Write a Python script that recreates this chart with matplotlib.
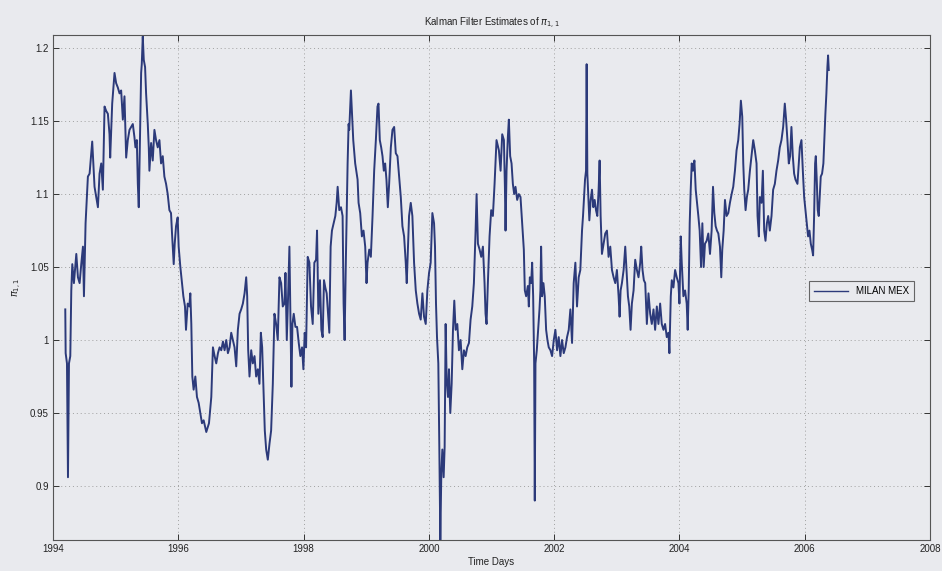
import matplotlib
matplotlib.use("Agg")
import matplotlib.pyplot as plt
from matplotlib.ticker import FixedLocator

plt.rcParams['font.family'] = ['Liberation Sans', 'DejaVu Sans']

# ---- data ----
years = [
 1994.196,1994.202,1994.223,1994.239,1994.255,1994.276,1994.292,1994.308,1994.334,1994.372,
 1994.398,1994.425,1994.451,1994.478,1994.494,1994.520,1994.557,1994.584,1994.626,1994.663,
 1994.690,1994.717,1994.743,1994.770,1994.796,1994.823,1994.849,1994.876,1994.902,1994.913,
 1994.945,1994.982,1995.008,1995.035,1995.062,1995.088,1995.115,1995.141,1995.168,1995.194,
 1995.221,1995.247,1995.274,1995.300,1995.316,1995.338,1995.354,1995.369,1995.391,1995.407,
 1995.417,1995.433,1995.449,1995.470,1995.486,1995.513,1995.529,1995.539,1995.566,1995.592,
 1995.619,1995.645,1995.672,1995.699,1995.725,1995.752,1995.778,1995.805,1995.831,1995.858,
 1995.884,1995.900,1995.927,1995.943,1995.964,1995.990,1996.006,1996.033,1996.059,1996.081,
 1996.107,1996.123,1996.150,1996.176,1996.192,1996.208,1996.224,1996.245,1996.272,1996.298,
 1996.325,1996.351,1996.378,
 1996.405,1996.447,1996.490,1996.527,1996.553,1996.580,1996.606,1996.633,1996.659,1996.686,
 1996.713,1996.739,1996.766,1996.792,1996.819,1996.845,1996.872,1996.898,1996.925,1996.951,
 1996.978,1997.004,1997.031,1997.058,1997.084,1997.100,1997.116,1997.137,1997.164,1997.190,
 1997.217,1997.243,1997.270,1997.296,1997.318,1997.339,1997.360,1997.381,1997.403,1997.429,
 1997.456,1997.482,1997.509,1997.535,1997.562,1997.588,1997.615,1997.642,1997.668,1997.695,
 1997.711,1997.732,1997.753,1997.774,1997.790,1997.806,1997.822,1997.843,1997.870,1997.896,
 1997.923,1997.949,1997.976,1997.997,1998.018,1998.040,1998.066,1998.093,1998.119,1998.146,
 1998.172,1998.199,1998.215,1998.236,1998.262,1998.284,1998.305,1998.326,1998.347,1998.369,
 1998.390,1998.411,1998.432,1998.453,1998.480,1998.507,1998.528,1998.544,1998.570,1998.597,
 1998.623,1998.639,1998.655,1998.676,1998.703,1998.719,
 1998.729,1998.756,1998.771,1998.793,1998.824,1998.862,1998.878,1998.904,1998.931,1998.957,
 1998.984,1999.005,1999.021,1999.048,1999.074,1999.101,1999.127,1999.154,1999.180,1999.196,
 1999.217,1999.239,1999.260,1999.281,1999.302,1999.323,1999.345,1999.366,1999.393,1999.419,
 1999.446,1999.472,1999.499,1999.525,1999.552,1999.578,1999.605,1999.631,1999.647,1999.669,
 1999.684,1999.711,1999.737,1999.764,1999.791,1999.817,1999.844,1999.870,1999.897,1999.923,
 1999.950,1999.976,2000.003,2000.029,2000.056,2000.083,2000.098,2000.114,2000.130,2000.151,
 2000.167,2000.183,2000.199,2000.215,2000.236,2000.252,2000.268,2000.284,2000.305,2000.321,
 2000.342,2000.364,2000.385,2000.406,2000.427,2000.454,2000.480,2000.507,2000.534,2000.560,
 2000.587,2000.613,2000.640,2000.666,2000.693,2000.719,2000.746,2000.762,2000.783,2000.810,
 2000.836,2000.863,2000.889,2000.905,2000.921,2000.942,2000.969,2000.995,2001.022,2001.049,
 2001.080,
 2001.118,2001.145,2001.171,2001.198,2001.214,2001.224,2001.240,2001.261,2001.277,2001.298,
 2001.320,2001.341,2001.362,2001.383,2001.410,2001.436,2001.463,2001.490,2001.516,2001.532,
 2001.553,2001.580,2001.596,2001.612,2001.633,2001.649,2001.665,2001.681,2001.691,2001.702,
 2001.723,2001.744,2001.766,2001.781,2001.792,2001.808,2001.829,2001.850,2001.872,2001.893,
 2001.914,2001.941,2001.967,2001.994,2002.020,2002.047,2002.073,2002.100,2002.126,2002.153,
 2002.180,2002.206,2002.233,2002.259,2002.286,2002.312,2002.339,2002.365,2002.392,2002.418,
 2002.445,2002.461,2002.477,2002.493,2002.509,2002.519,2002.530,2002.546,2002.562,2002.583,
 2002.604,2002.625,2002.647,2002.668,2002.689,2002.710,2002.726,2002.742,2002.763,2002.790,
 2002.816,2002.843,2002.869,2002.896,2002.923,2002.949,2002.976,2003.002,2003.029,2003.045,
 2003.061,2003.082,2003.109,2003.135,2003.156,2003.178,2003.199,2003.220,2003.241,2003.268,
 2003.294,2003.321,2003.347,2003.374,2003.390,2003.411,2003.432,2003.454,2003.480,
 2003.506,2003.533,2003.559,2003.586,2003.612,2003.639,2003.665,2003.692,2003.718,2003.745,
 2003.771,2003.798,2003.825,2003.840,2003.862,2003.878,2003.904,2003.931,2003.957,2003.984,
 2004.000,2004.021,2004.037,2004.063,2004.090,2004.116,2004.132,2004.148,2004.164,2004.180,
 2004.196,2004.217,2004.239,2004.260,2004.281,2004.302,2004.323,2004.345,2004.366,2004.387,
 2004.408,2004.435,2004.461,2004.488,2004.514,2004.536,2004.557,2004.578,2004.599,2004.621,
 2004.647,2004.668,2004.684,2004.706,2004.727,2004.753,2004.780,2004.806,2004.833,2004.859,
 2004.886,2004.912,2004.939,2004.960,2004.981,2005.003,2005.019,2005.035,2005.056,2005.077,
 2005.098,2005.125,2005.151,2005.178,2005.204,2005.231,2005.247,2005.268,2005.284,2005.311,
 2005.332,2005.353,2005.374,2005.396,2005.417,2005.443,2005.470,2005.496,2005.523,2005.549,
 2005.576,2005.602,2005.629,2005.656,2005.682,2005.703,2005.724,2005.746,2005.767,2005.788,
 2005.810,2005.831,2005.852,2005.884,
 2005.922,2005.948,2005.970,2005.991,2006.012,2006.033,2006.054,2006.076,2006.097,2006.118,
 2006.134,2006.150,2006.166,2006.177,2006.192,2006.208,2006.224,2006.240,2006.256,2006.277,
 2006.298,2006.315,2006.330,2006.346,2006.362,2006.373,2006.384,
]
pi11 = [
 1.021,0.991,0.984,0.906,0.984,0.989,1.034,1.052,1.039,1.059,
 1.043,1.039,1.052,1.064,1.030,1.080,1.112,1.114,1.136,1.105,
 1.098,1.091,1.114,1.121,1.103,1.160,1.157,1.155,1.141,1.125,
 1.162,1.183,1.176,1.173,1.169,1.171,1.151,1.167,1.125,1.137,
 1.144,1.146,1.148,1.139,1.132,1.137,1.107,1.091,1.146,1.183,
 1.189,1.208,1.192,1.187,1.169,1.148,1.132,1.116,1.135,1.123,
 1.144,1.137,1.132,1.137,1.121,1.126,1.112,1.107,1.100,1.089,
 1.087,1.073,1.052,1.066,1.078,1.084,1.064,1.050,1.039,1.030,
 1.023,1.007,1.025,1.023,1.032,1.011,0.975,0.966,0.975,0.961,
 0.957,0.950,0.943,
 0.945,0.937,0.943,0.961,0.995,0.989,0.984,0.991,0.995,0.993,
 0.999,0.993,1.000,0.991,0.995,1.005,1.000,0.995,0.982,1.007,
 1.018,1.021,1.025,1.032,1.043,1.030,0.993,0.975,0.993,0.984,
 0.989,0.975,0.980,0.970,1.005,0.995,0.966,0.938,0.925,0.918,
 0.929,0.938,0.970,1.018,1.011,1.000,1.043,1.039,1.023,1.025,
 1.046,1.000,1.030,1.064,1.018,0.968,1.011,1.018,1.009,1.009,
 0.998,0.989,0.995,0.980,1.005,0.995,1.057,1.053,1.023,1.011,
 1.053,1.055,1.075,1.018,1.041,1.007,1.002,1.041,1.036,1.032,
 1.018,1.005,1.064,1.075,1.080,1.085,1.094,1.105,1.089,1.091,
 1.085,1.025,1.000,1.057,1.121,1.148,
 1.144,1.171,1.157,1.137,1.121,1.110,1.094,1.087,1.071,1.075,
 1.064,1.039,1.053,1.062,1.057,1.085,1.116,1.137,1.160,1.162,
 1.137,1.132,1.126,1.116,1.121,1.110,1.091,1.107,1.132,1.144,
 1.146,1.128,1.126,1.112,1.098,1.078,1.071,1.053,1.039,1.066,
 1.085,1.094,1.085,1.053,1.034,1.025,1.018,1.014,1.032,1.016,
 1.011,1.034,1.046,1.053,1.087,1.080,1.064,1.025,1.002,0.984,
 0.927,0.863,0.909,0.925,0.906,0.927,1.011,0.973,0.961,0.980,
 0.950,0.970,1.007,1.027,1.007,1.011,0.993,1.000,0.980,0.993,
 0.989,0.995,0.998,1.014,1.023,1.039,1.075,1.100,1.066,1.062,
 1.057,1.064,1.039,1.018,1.011,1.039,1.071,1.089,1.085,1.107,
 1.137,
 1.130,1.116,1.141,1.137,1.105,1.075,1.116,1.139,1.151,1.126,
 1.121,1.107,1.100,1.105,1.096,1.100,1.098,1.080,1.062,1.034,
 1.030,1.037,1.023,1.043,1.039,1.053,1.030,0.984,0.890,0.984,
 0.993,1.007,1.021,1.034,1.064,1.030,1.039,1.030,1.007,1.000,
 0.995,0.993,0.989,1.000,1.007,0.993,1.002,0.989,1.000,0.991,
 0.995,1.002,1.007,1.021,0.998,1.039,1.053,1.023,1.043,1.048,
 1.075,1.085,1.098,1.110,1.116,1.189,1.114,1.098,1.082,1.096,
 1.103,1.091,1.096,1.089,1.085,1.103,1.123,1.085,1.059,1.066,
 1.073,1.075,1.057,1.064,1.048,1.043,1.039,1.048,1.030,1.016,
 1.034,1.039,1.048,1.064,1.048,1.030,1.023,1.007,1.025,1.034,
 1.055,1.048,1.043,1.053,1.064,1.048,1.041,1.039,1.011,
 1.032,1.018,1.011,1.021,1.007,1.023,1.011,1.025,1.011,1.007,
 1.011,1.002,1.005,0.991,1.030,1.041,1.036,1.048,1.043,1.039,
 1.025,1.071,1.053,1.030,1.034,1.025,1.007,1.034,1.080,1.103,
 1.121,1.116,1.123,1.103,1.094,1.085,1.075,1.050,1.080,1.050,
 1.066,1.068,1.073,1.059,1.075,1.105,1.087,1.078,1.075,1.073,
 1.064,1.043,1.062,1.075,1.096,1.085,1.087,1.094,1.100,1.105,
 1.116,1.130,1.137,1.148,1.164,1.153,1.121,1.103,1.089,1.098,
 1.103,1.116,1.126,1.137,1.130,1.121,1.085,1.071,1.098,1.094,
 1.116,1.075,1.068,1.080,1.085,1.075,1.085,1.103,1.107,1.116,
 1.123,1.132,1.137,1.146,1.162,1.151,1.137,1.121,1.126,1.146,
 1.126,1.114,1.110,1.107,
 1.132,1.137,1.116,1.098,1.089,1.080,1.071,1.075,1.066,1.062,
 1.058,1.085,1.121,1.126,1.110,1.089,1.085,1.098,1.112,1.114,
 1.121,1.139,1.155,1.169,1.187,1.195,1.185,
]
series_label = "MILAN MEX"
xticks = [1994, 1996, 1998, 2000, 2002, 2004, 2006, 2008]
yticks = [0.9, 0.95, 1.0, 1.05, 1.1, 1.15, 1.2]
ytick_labels = ["0.9", "0.95", "1", "1.05", "1.1", "1.15", "1.2"]

bg = "#e9eaee"
fig = plt.figure(figsize=(9.42, 5.71), dpi=100, facecolor=bg)
ax = fig.add_axes([53/942, 1-540/571, (930-53)/942, (540-35)/571])
ax.set_facecolor(bg)

ax.plot(years, pi11, color="#2c3a7a", linewidth=1.4, label=series_label)

ax.set_xlim(1994, 2008)
ax.set_ylim(0.863, 1.209)
ax.xaxis.set_major_locator(FixedLocator(xticks))
ax.yaxis.set_major_locator(FixedLocator(yticks))
ax.set_yticklabels(ytick_labels)
ax.tick_params(direction="in", top=True, right=True, labelsize=7, length=4,
               width=0.7, color="#333333", labelcolor="#222222", pad=3)
ax.grid(True, linestyle=(0, (1, 3)), color="#a0a0a0", linewidth=0.7)
for s in ax.spines.values():
    s.set_color("#555555")
    s.set_linewidth(0.8)

ax.set_title(r"Kalman Filter Estimates of $\pi_{1,1}$", fontsize=7, pad=6, color="#222222")
ax.set_xlabel("Time Days", fontsize=7, labelpad=2, color="#222222")
ax.set_ylabel(r"$\pi_{1,1}$", fontsize=7, labelpad=4, color="#222222")

leg = ax.legend(loc="center right", bbox_to_anchor=(0.987, 0.493), fontsize=7,
                frameon=True, fancybox=False, edgecolor="#444444", facecolor=bg,
                handlelength=3.5, borderpad=0.5)
leg.get_frame().set_linewidth(0.8)
leg.get_lines()[0].set_linewidth(1.0)

fig.savefig("out.png", dpi=100, facecolor=bg)
